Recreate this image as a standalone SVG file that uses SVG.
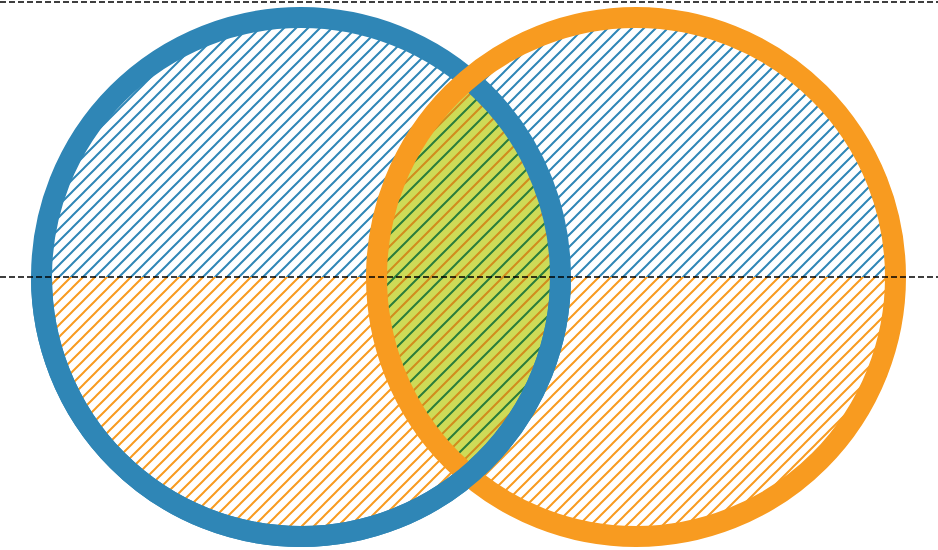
<svg xmlns="http://www.w3.org/2000/svg" width="938" height="550" viewBox="0 0 938 550">
<style>
.ring{fill:none;stroke-width:21}
.blue{stroke:#2f86b6}
.orange{stroke:#f89b20}
.dash{stroke:#000;stroke-width:1.5;stroke-dasharray:6 3;fill:none}
</style>
<defs>
<pattern id="hb" patternUnits="userSpaceOnUse" width="12" height="12">
<path d="M-1,1 L1,-1 M0,12 L12,0 M11,13 L13,11" stroke="#2f86b6" stroke-width="2"/>
</pattern>
<pattern id="ho" patternUnits="userSpaceOnUse" width="12" height="12">
<path d="M-1,1 L1,-1 M0,12 L12,0 M11,13 L13,11" stroke="#f89b20" stroke-width="2"/>
</pattern>
<pattern id="hl" patternUnits="userSpaceOnUse" width="24" height="24">
<rect width="24" height="24" fill="#cedb57"/>
<path d="M-1,1 L1,-1 M0,24 L24,0 M23,25 L25,23" stroke="#2a7d3b" stroke-width="2"/>
<path d="M-1,13 L13,-1 M11,25 L25,11" stroke="#d18c1d" stroke-width="2"/>
</pattern>
<clipPath id="disks">
<circle cx="301" cy="277" r="259.5"/>
<circle cx="636" cy="277" r="259.5"/>
</clipPath>
</defs>
<g id="hatch" clip-path="url(#disks)">
<rect x="0" y="0" width="938" height="277" fill="url(#hb)"/>
<rect x="0" y="277" width="938" height="273" fill="url(#ho)"/>
</g>
<g id="lens">
<path d="M468.5,78.8 A259.5,259.5 0 0 1 468.5,475.2 A259.5,259.5 0 0 1 468.5,78.8 Z" fill="url(#hl)"/>
</g>
<g id="circleA">
<circle class="ring blue" cx="301" cy="277" r="259.5"/>
</g>
<g id="circleB">
<circle class="ring orange" cx="636" cy="277" r="259.5"/>
</g>
<g id="circleA-front">
<path class="ring blue" d="M41.5,277 A259.5,259.5 0 0 0 560.5,277"/>
</g>
<g id="connectors">
<line class="dash" x1="0" y1="2" x2="938" y2="2"/>
<line class="dash" x1="0" y1="277" x2="938" y2="277"/>
</g>
</svg>
